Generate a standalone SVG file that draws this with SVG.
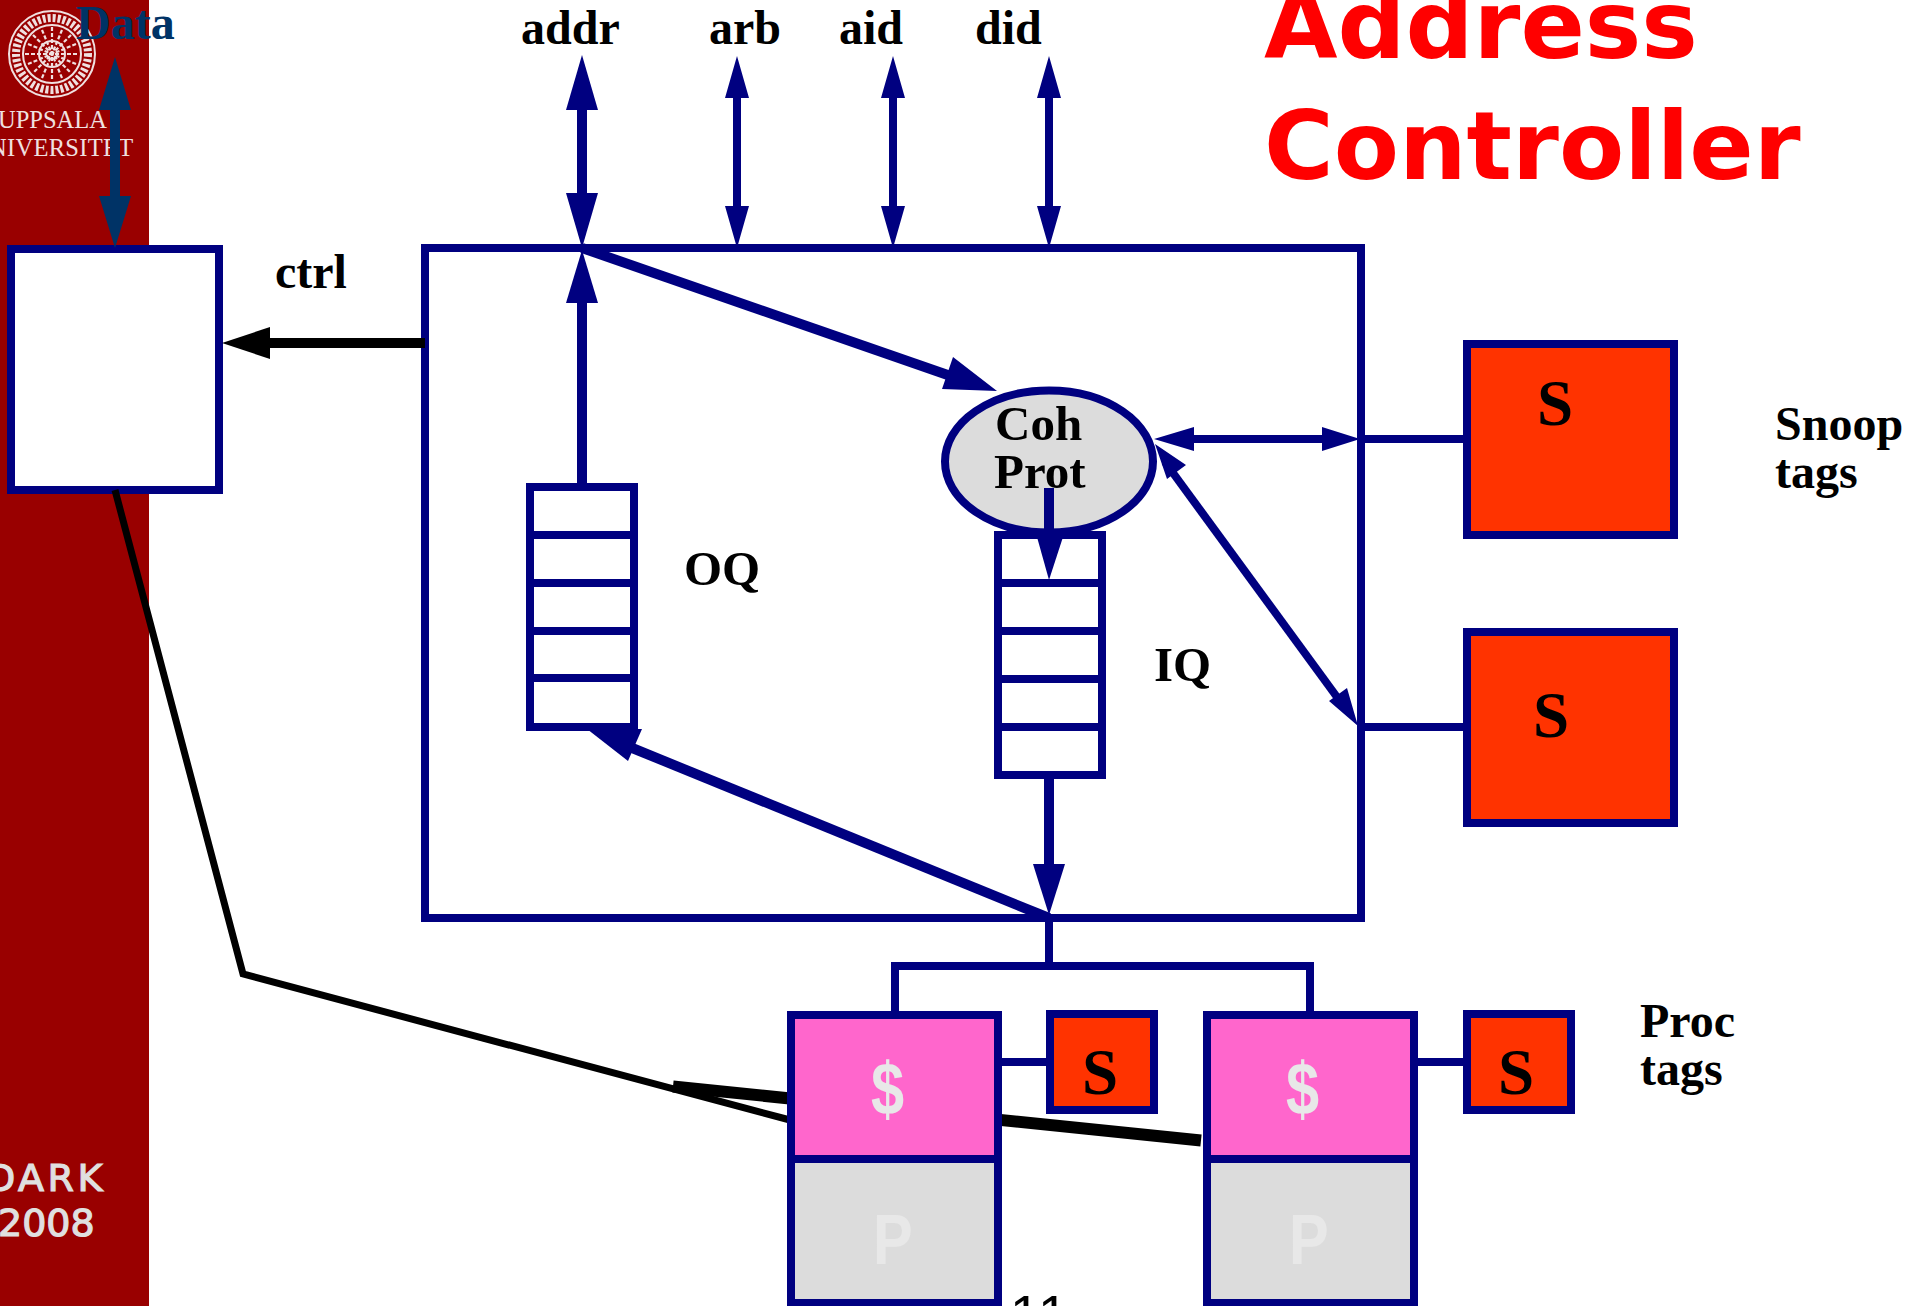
<svg xmlns="http://www.w3.org/2000/svg" width="1921" height="1306" viewBox="0 0 1921 1306">
<style>
.s{font-family:"Liberation Serif","Times New Roman",serif;font-weight:bold;fill:#000}
.h{font-family:"DejaVu Sans",sans-serif;font-weight:bold;fill:#f00;font-size:95px}
.w{font-family:"Liberation Sans",sans-serif;font-weight:bold;fill:#e8e8e8}
.l{font-size:48px}
.b{fill:none;stroke:#000080;stroke-width:8}
.n{stroke:#000080;stroke-width:8;fill:#fff}
.o{stroke:#000080;stroke-width:8;fill:#ff3300}
.p{stroke:#000080;stroke-width:8;fill:#ff66cc}
.g{stroke:#000080;stroke-width:8;fill:#dcdcdc}
.a{fill:#000080}
.d{fill:#003366}
.t{font-family:"Liberation Serif",serif;font-size:24.5px;fill:#f0e0e0}
.k{font-family:"DejaVu Sans",sans-serif;font-size:38px;fill:#e0e0e0;stroke:#e0e0e0;stroke-width:1.2}
</style>
<g id="sidebar">
<rect x="0" y="0" width="149" height="1306" fill="#990000"/>
<g fill="none" stroke="#f0e0e0">
<circle cx="52" cy="54" r="43" stroke-width="2"/>
<circle cx="52" cy="54" r="36" stroke-width="8" stroke-dasharray="3 2"/>
<circle cx="52" cy="54" r="29" stroke-width="2"/>
<path d="M25 54 H79 M52 27 V81 M33 35 L71 73 M71 35 L33 73 M28 44 L76 64 M76 44 L28 64 M42 30 L62 78 M62 30 L42 78" stroke-width="2.2" stroke-dasharray="4 2"/>
<circle cx="52" cy="54" r="13" stroke-width="2"/>
</g>
<text x="-2" y="128" class="t">UPPSALA</text>
<text x="-11" y="156" class="t" letter-spacing=".3">NIVERSITET</text>
<text x="-14" y="1191" class="k" letter-spacing="3.5">DARK</text>
<text x="-2" y="1236" class="k">2008</text>
</g>
<g id="data-box"><rect x="11" y="249" width="208" height="241" class="n"/></g>
<g id="controller"><rect x="425" y="248" width="936" height="670" class="b"/></g>
<g id="oq">
<rect x="530" y="487" width="104" height="240" class="b"/>
<path d="M530 535 H634 M530 583 H634 M530 631 H634 M530 678 H634" class="b"/>
<text x="684" y="585" class="s" style="font-size:49px">OQ</text>
</g>
<g id="iq">
<rect x="998" y="535" width="104" height="240" class="b"/>
<path d="M998 583 H1102 M998 631 H1102 M998 679 H1102 M998 727 H1102" class="b"/>
<text x="1154" y="681" class="s" style="font-size:49px">IQ</text>
</g>
<g id="coh">
<ellipse cx="1049" cy="461.500" rx="104" ry="71" class="g"/>
<text x="995" y="440" class="s" style="font-size:49px">Coh</text>
<text x="994" y="488" class="s" style="font-size:49px">Prot</text>
</g>
<g id="connectors">
<path d="M115 490 L243 974 L790 1120" fill="none" stroke="#000" stroke-width="7"/>
<path d="M673 1086.500 L1201 1140.500" stroke="#000" stroke-width="12" fill="none"/>
<path d="M582 90 V210" stroke="#000080" stroke-width="10"/>
<path class="a" d="M582 55 L598 110 H566Z"/><path class="a" d="M582 248 L598 193 H566Z"/>
<path d="M737 75 V232 M893 75 V232 M1049 75 V232" stroke="#000080" stroke-width="8"/>
<path class="a" d="M737 56 L749 98 H725Z M893 56 L905 98 H881Z M1049 56 L1061 98 H1037Z"/>
<path class="a" d="M737 248 L749 206 H725Z M893 248 L905 206 H881Z M1049 248 L1061 206 H1037Z"/>
<path d="M582 487 V290" stroke="#000080" stroke-width="10"/>
<path class="a" d="M582 250 L598 303 H566Z"/>
<path d="M582 248 L965 381" stroke="#000080" stroke-width="10"/>
<path class="a" d="M997 391 L942 389 L953 357Z"/>
<path d="M1049 488 V540" stroke="#000080" stroke-width="10"/>
<path class="a" d="M1049 580 L1037 537 H1063Z"/>
<path d="M1049 775 V880" stroke="#000080" stroke-width="10"/>
<path class="a" d="M1049 915 L1033 864 H1065Z"/>
<path d="M1049 918 L615 741" stroke="#000080" stroke-width="10"/>
<path class="a" d="M587 729 L642 729 L628 761Z"/>
<path d="M1170 439 H1330" stroke="#000080" stroke-width="8"/>
<path class="a" d="M1154 439 L1194 427 V451Z M1360 439 L1322 427 V451Z"/>
<path d="M1165 462 L1345 708" stroke="#000080" stroke-width="8"/>
<path class="a" d="M1155 444 L1186 465 L1167 479Z M1358 726 L1329 701 L1347 688Z"/>
<path d="M1361 439 H1467 M1361 727 H1467 M1049 918 V966 M895 1015 V966 H1310 V1015 M998 1062 H1050 M1414 1062 H1467" class="b"/>
<path d="M115 90 V215" stroke="#003366" stroke-width="10"/>
<path class="d" d="M115 57 L131 110 H99Z M115 248 L131 196 H99Z"/>
<path d="M250 343 H425" stroke="#000" stroke-width="10"/>
<path d="M222 343 L270 327 V359Z" fill="#000"/>
</g>
<g id="snoop1"><rect x="1467" y="344" width="207" height="191" class="o"/><text x="1537" y="425" class="s" style="font-size:65px">S</text></g>
<g id="snoop2"><rect x="1467" y="632" width="207" height="191" class="o"/><text x="1533" y="737" class="s" style="font-size:65px">S</text></g>
<g id="cache1"><rect x="791" y="1015" width="207" height="144" class="p"/><text transform="translate(871 1114) scale(.85 1.07)" class="w" style="font-size:70px">$</text></g>
<g id="proc1"><rect x="791" y="1159" width="207" height="144" class="g"/><text transform="translate(873 1264) scale(.85 1)" class="w" style="font-size:70px">P</text></g>
<g id="stag1"><rect x="1050" y="1014" width="104" height="96" class="o"/><text x="1082" y="1094" class="s" style="font-size:65px">S</text></g>
<g id="cache2"><rect x="1207" y="1015" width="207" height="144" class="p"/><text transform="translate(1286 1114) scale(.85 1.07)" class="w" style="font-size:70px">$</text></g>
<g id="proc2"><rect x="1207" y="1159" width="207" height="144" class="g"/><text transform="translate(1289 1264) scale(.85 1)" class="w" style="font-size:70px">P</text></g>
<g id="stag2"><rect x="1467" y="1014" width="104" height="96" class="o"/><text x="1498" y="1094" class="s" style="font-size:65px">S</text></g>
<g id="labels">
<text x="76" y="39" class="s" style="font-size:48px;fill:#003366">Data</text>
<text x="521" y="44" class="s l">addr</text>
<text x="709" y="44" class="s l">arb</text>
<text x="839" y="44" class="s l">aid</text>
<text x="975" y="44" class="s l">did</text>
<text x="275" y="288" class="s l">ctrl</text>
<text x="1775" y="440" class="s l">Snoop</text>
<text x="1775" y="488" class="s l">tags</text>
<text x="1640" y="1037" class="s l">Proc</text>
<text x="1640" y="1085" class="s l">tags</text>
<text x="1264" y="58" class="h">Address</text>
<text x="1264" y="179" class="h">Controller</text>
<text x="1010" y="1333" font-family="Liberation Sans,sans-serif" font-size="54" letter-spacing="2" fill="#000">11</text>
</g>
</svg>
